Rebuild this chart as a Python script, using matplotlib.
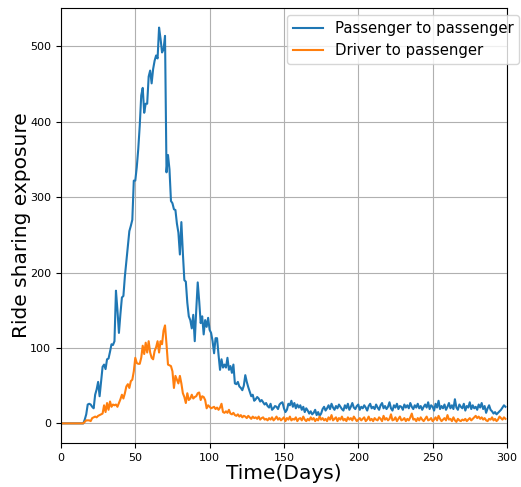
import numpy as np
import matplotlib
matplotlib.use("Agg")
import matplotlib.pyplot as plt

# daily exposure counts, day 0..299
p2p = ([0] * 16 +
       [5, 12, 25, 26, 25, 22, 20, 38, 45, 55,
        36, 55, 75, 78, 72, 85, 86, 95, 105, 104,
        109, 176, 150, 120, 145, 167, 169, 195, 215, 235,
        255, 262, 270, 322, 322, 340, 364, 395, 435, 445,
        412, 424, 424, 460, 468, 451, 470, 481, 488, 484,
        525, 510, 492, 496, 514, 333, 356, 337, 295, 292,
        284, 283, 265, 253, 224, 267, 226, 190, 188, 160,
        142, 137, 126, 144, 109, 150, 187, 162, 133, 142,
        118, 137, 128, 140, 124, 120, 109, 93, 113, 113,
        91, 71, 85, 74, 78, 74, 87, 71, 76, 67,
        78, 53, 52, 55, 49, 47, 44, 50, 64, 55,
        48, 42, 36, 38, 30, 32, 35, 33, 29, 31,
        28, 25, 27, 23, 21, 26, 18, 20, 23, 22,
        19, 25, 27, 28, 20, 15, 18, 26, 24, 30,
        22, 27, 20, 25,
        21, 24, 18, 22, 15, 20, 17, 13, 16, 12,
        14, 18, 11, 15, 10, 13, 19, 22, 17, 20,
        24, 19, 26, 21, 18, 23, 20, 25, 22, 19,
        17, 24, 20, 26, 18, 22, 27, 21, 19, 23,
        25, 18, 22, 20, 24, 21, 17, 23, 26, 20,
        22, 19, 25, 21, 18, 24, 27, 20, 23, 19,
        22, 28, 20, 17, 24, 21, 26, 19, 23, 22,
        18, 25, 21, 24, 20, 27, 22, 19, 24, 21,
        26, 20, 23, 18, 22, 25, 21, 28, 19, 24,
        22, 17, 26, 21, 30, 19, 23, 20, 25, 18,
        22, 27, 20, 24, 19, 32, 21, 18, 25, 22,
        20, 26, 17, 23, 21, 28, 19, 24, 20, 22,
        18, 25, 21, 27, 19, 23, 14, 20, 24, 18,
        16, 13, 15, 12, 14, 16, 18, 21, 24, 22])

d2p = ([0] * 16 +
       [2, 4, 4, 4, 3, 7, 8, 9, 8, 10,
        11, 12, 13, 24, 15, 27, 18, 29, 22, 25,
        24, 25, 22, 27, 32, 38, 33, 40, 49, 52,
        47, 56, 58, 69, 87, 80, 79, 79, 87, 103,
        92, 107, 94, 109, 94, 87, 85, 96, 101, 109,
        94, 109, 105, 123, 130, 105, 78, 77, 76, 69,
        47, 63, 58, 53, 63, 53, 40, 35, 27, 40,
        31, 33, 38, 33, 35, 36, 40, 41, 31, 36,
        35, 31, 20, 24, 22, 20, 21, 22, 19, 21,
        18, 21, 26, 15, 14, 16, 14, 18, 13, 12,
        14, 11, 10, 12, 9,
        11, 8, 10, 9, 7, 10, 8, 6, 9, 7,
        8, 6, 9, 5, 7, 8, 5, 6, 4, 7,
        5, 8, 4, 6, 9, 5, 7, 4, 6, 8,
        3, 7, 5, 9, 4, 6, 5, 8, 3, 6,
        7, 4, 9, 5, 3, 6, 4, 8, 5, 7,
        3, 6, 4, 9, 5, 7, 4, 6, 3, 8,
        5, 11, 4, 6, 8, 3, 7, 5, 9, 4,
        6, 3, 8, 5, 7, 4, 9, 6, 3, 5,
        7, 4, 6, 8, 3, 5, 9, 4, 6, 3,
        7, 5, 4, 8, 6, 3, 10, 5, 7, 4,
        6, 12, 4, 5, 8, 3, 6, 9, 4, 5,
        7, 3, 6, 4, 8, 13, 5, 6, 3, 7,
        4, 8, 5, 3, 6, 9, 4, 5, 7, 3,
        5, 8, 4, 10, 6, 3, 5, 7, 4, 11,
        5, 6, 3, 8, 4, 2, 6, 4, 3, 5,
        4, 6, 3, 5, 7, 4, 6, 8, 10, 7,
        9, 6, 8, 5, 7, 4, 3, 6, 5, 8,
        4, 6, 3, 5, 9, 7, 5, 8, 6])

days = np.arange(len(p2p))

fig = plt.figure(figsize=(5.21, 4.87), dpi=100)
ax = fig.add_axes([0.117, 0.090, 0.856, 0.894])
ax.plot(days, p2p, color="#1f77b4", lw=1.5, label="Passenger to passenger")
ax.plot(days, d2p, color="#ff7f0e", lw=1.5, label="Driver to passenger")
ax.set_xlim(0, 300)
ax.grid(True, color="#b0b0b0", lw=0.8)
ax.tick_params(labelsize=8)
ax.set_xlabel("Time(Days)", fontsize=14.5, labelpad=1)
ax.set_ylabel("Ride sharing exposure", fontsize=14.5)
ax.yaxis.set_label_coords(-0.067, 0.5)
ax.legend(loc="upper right", bbox_to_anchor=(0.997, 0.969),
          bbox_transform=fig.transFigure, fontsize=10.7, borderaxespad=0)

fig.savefig("out.png", dpi=100)
